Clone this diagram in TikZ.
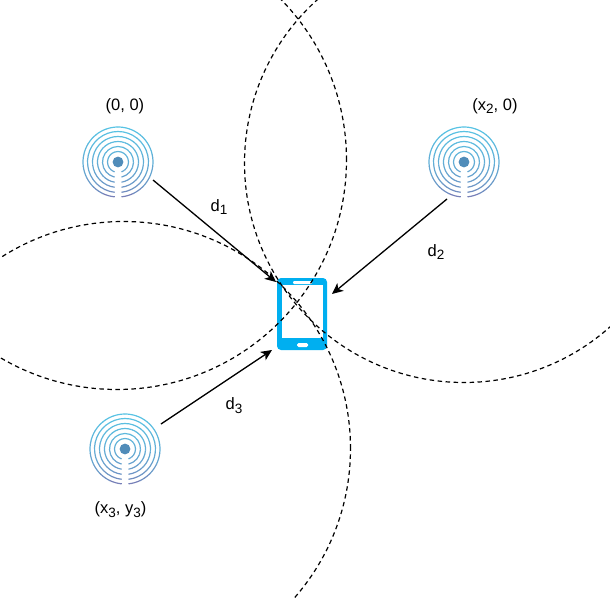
\documentclass[tikz,border=0pt]{standalone}
\usepackage{amsmath}
\usepackage{fontspec}
\setmainfont{Liberation Sans}
\usetikzlibrary{arrows.meta}

\definecolor{ringtop}{RGB}{88,195,228}
\definecolor{ringlow}{RGB}{125,115,175}
\definecolor{dotblue}{RGB}{80,140,185}
\definecolor{phoneblue}{RGB}{0,175,240}

\newcommand{\sub}[1]{\raisebox{-.45ex}{\fontsize{13.5}{15}\selectfont #1}}

\tikzset{
	signal/.style={inner sep=0pt, minimum size=70pt, circle},
	labeltext/.style={inner sep=0pt, font=\fontsize{16.5}{18}\selectfont},
	rangeline/.style={black, line width=1.2pt, dash pattern=on 4.5pt off 3.5pt},
	link/.style={-{Stealth[length=11pt, width=10pt, inset=3pt]}, line width=1.3pt},
}

% rings of one source, drawn round the named node
\newcommand{\rings}[1]{
	\fill[dotblue] (#1) circle (5.4pt);
	\foreach \r in {10.5, 15.5, 20.5, 25.5, 30.5, 35} {
		\pgfmathsetmacro{\gapa}{asin(3.5/\r)}
		\pgfmathsetmacro{\sweep}{(360 - 2*\gapa)/18}
		\foreach \i in {0, ..., 17} {
			\pgfmathsetmacro{\a}{-90 + \gapa + \i*\sweep}
			\pgfmathsetmacro{\mixval}{100*pow(max(0, min(1, (sin(\a + \sweep/2) * \r + 35) / 70)), .45)}
			\draw[ringtop!\mixval!ringlow, line width=1.2pt] (#1) ++(\a:\r pt) arc (\a:\a+\sweep+.4:\r pt);
		}
	}
}

\begin{document}
\begin{tikzpicture}[x=1pt, y=-1pt]
	\useasboundingbox (0, 0) rectangle (610, 599);

	\node[signal] (s1) at (118, 162) {};
	\node[signal] (s2) at (464, 162) {};
	\node[signal] (s3) at (125, 449) {};
	\rings{s1}
	\rings{s2}
	\rings{s3}

	% phone
	\node[fill=phoneblue, rounded corners=4pt, inner sep=0pt, minimum width=50pt, minimum height=72pt] (phone) at (302, 314) {};
	\fill[white] (282, 285) rectangle (323, 338);
	\fill[white, rounded corners=1pt] (293, 281) rectangle (312, 284);
	\fill[white, rounded corners=1.5pt] (297, 343) rectangle (308, 347);

	% ranges
	\coordinate (c1) at (117, 160);
	\coordinate (c2) at (464, 163);
	\coordinate (c3) at (123.5, 448.5);
	\begin{scope}
		\clip (0, 0) rectangle (610, 599);
		\draw[rangeline] (c1) circle (229.5pt);
		\draw[rangeline] (c2) circle (219.5pt);
		\draw[rangeline] (c3) circle (227pt);
	\end{scope}

	\node[labeltext] (l1) at (125, 106) {(0, 0)};
	\node[labeltext] (l2) at (495, 106) {(x\sub{2}, 0)};
	\node[labeltext] (l3) at (120.5, 510) {(x\sub{3}, y\sub{3})};
	\node[labeltext] (d1) at (219, 207) {d\sub{1}};
	\node[labeltext] (d2) at (436, 252) {d\sub{2}};
	\node[labeltext] (d3) at (234, 406) {d\sub{3}};

	\coordinate (a1) at (153, 180);
	\coordinate (a2) at (447, 199);
	\coordinate (a3) at (161, 424);
	\coordinate (p1) at (276, 282);
	\coordinate (p2) at (332, 294);
	\coordinate (p3) at (272, 350);
	\draw[link] (a1) -- (p1);
	\draw[link] (a2) -- (p2);
	\draw[link] (a3) -- (p3);
\end{tikzpicture}
\end{document}
